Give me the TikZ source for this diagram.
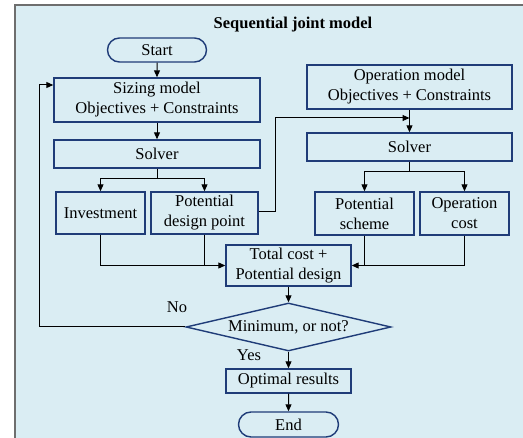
\documentclass[tikz,border=0pt]{standalone}
\usepackage{fontspec}
\setmainfont{Liberation Serif}
\usetikzlibrary{shapes.geometric,shapes.misc,arrows.meta}
\definecolor{bgblue}{HTML}{DAEDF3}
\definecolor{boxblue}{HTML}{1F3C78}
\definecolor{framegray}{HTML}{6E6E6E}
\begin{document}
\begin{tikzpicture}[x=1pt,y=-1pt,
  every node/.style={font=\fontsize{16.5}{20}\selectfont, inner sep=0pt, align=center},
  box/.style={draw=boxblue, line width=1.4pt, rectangle},
  term/.style={draw=boxblue, line width=1.4pt, rounded rectangle},
  dec/.style={draw=boxblue, line width=1.4pt, diamond},
  conn/.style={draw=black, line width=1pt},
  arr/.style={conn, -{Triangle[length=7pt,width=6pt]}}]
\useasboundingbox (0,0) rectangle (523,438);
\fill[bgblue] (15,5) rectangle (540,450);
\draw[framegray, line width=2pt] (15,450) -- (15,5) -- (540,5);
\node[font=\fontsize{16.5}{20}\selectfont\bfseries] (title) at (293,25) {Sequential joint model};
\node[term, minimum width=99pt, minimum height=24pt] (start) at (157,50) {Start};
\node[box, minimum width=206pt, minimum height=44pt] (size) at (157,100) {Sizing model\\Objectives + Constraints};
\node[box, minimum width=206pt, minimum height=28pt] (solv1) at (157,154) {Solver};
\node[box, minimum width=89pt, minimum height=42pt] (inv) at (100.5,213) {Investment};
\node[box, minimum width=107pt, minimum height=42pt] (pdp) at (204.5,213) {Potential\\design point};
\node[box, minimum width=205pt, minimum height=44pt] (op) at (409.5,87) {Operation model\\Objectives + Constraints};
\node[box, minimum width=205pt, minimum height=28pt] (solv2) at (409.5,147) {Solver};
\node[box, minimum width=99pt, minimum height=43pt] (ps) at (364.5,213.5) {Potential\\scheme};
\node[box, minimum width=89pt, minimum height=43pt] (oc) at (464.5,213.5) {Operation\\cost};
\node[box, minimum width=125pt, minimum height=41pt] (tc) at (288.5,265.5) {Total cost +\\Potential design};
\node[dec, minimum width=205pt, minimum height=48pt, aspect=4.27] (dia) at (288.5,327) {Minimum, or not?};
\node[box, minimum width=125pt, minimum height=24pt] (opt) at (288.5,381) {Optimal results};
\node[term, minimum width=100pt, minimum height=25pt] (end) at (288.5,424.5) {End};
\node (no) at (177,307) {No};
\node (yes) at (249,355) {Yes};
\coordinate (s1) at (157,179);
\coordinate (s2) at (409.5,172);
\coordinate (jl) at (204.5,265);
\coordinate (jr) at (364.5,265);
\coordinate (opmid) at (409.5,118);
\draw[arr] (start) -- (size);
\draw[arr] (size) -- (solv1);
\draw[conn] (solv1.south) -- (s1);
\draw[arr] (s1) -| (inv.north);
\draw[arr] (s1) -| (pdp.north);
\draw[arr] (op) -- (solv2);
\draw[conn] (solv2.south) -- (s2);
\draw[arr] (s2) -| (ps.north);
\draw[arr] (s2) -| (oc.north);
\draw[arr] (pdp.east |- 0,212) -- (275,212) -- (275,118) -- (opmid);
\draw[arr] (inv.south) |- (tc.west);
\draw[conn] (pdp.south) -- (jl);
\draw[arr] (oc.south) |- (tc.east);
\draw[conn] (ps.south) -- (jr);
\draw[arr] (tc) -- (dia);
\draw[arr] (dia.west) -- (39,327) -- (39,85) -- (size.west |- 0,85);
\draw[arr] (dia) -- (opt);
\draw[arr] (opt) -- (end);
\end{tikzpicture}
\end{document}
